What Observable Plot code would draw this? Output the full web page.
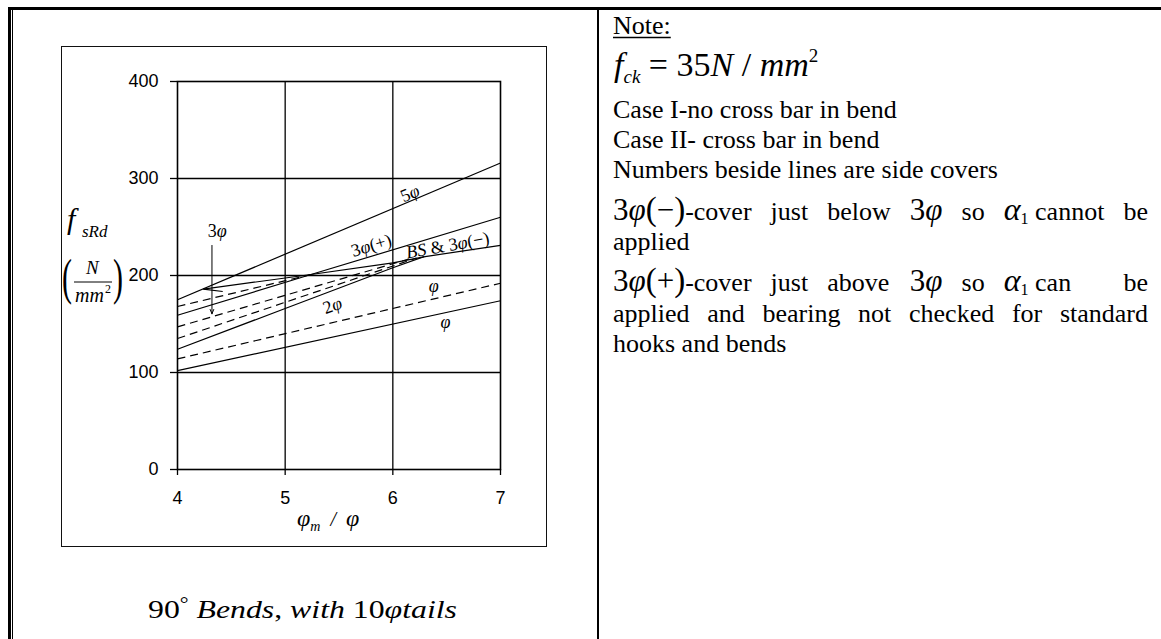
<!DOCTYPE html>
<html><head><meta charset="utf-8">
<script src="https://cdn.jsdelivr.net/npm/d3@7"></script>
<script src="https://cdn.jsdelivr.net/npm/@observablehq/plot@0.6"></script>
<style>
html,body{margin:0;padding:0;background:#fff;}
#page{position:relative;width:1161px;height:639px;overflow:hidden;background:#fff;}
.rule{position:absolute;background:#000;}
#innerBox{position:absolute;left:61px;top:46px;width:486px;height:501px;border:1.5px solid #111;box-sizing:border-box;}
#chart{position:absolute;left:62px;top:47px;}
#overlay{position:absolute;left:0;top:0;}
</style></head>
<body><div id="page">
<div class="rule" style="left:8px;top:7px;width:1153px;height:3px"></div>
<div class="rule" style="left:8px;top:7px;width:2.5px;height:632px"></div>
<div class="rule" style="left:11.5px;top:10px;width:1px;height:629px"></div>
<div class="rule" style="left:597px;top:7px;width:2px;height:632px"></div>
<div id="innerBox"></div>
<div id="chart"></div>
<svg id="overlay" width="1161" height="639"></svg>
</div>
<script>
// ---------- data ----------
const xTicks = [4, 5, 6, 7];
const yTicks = [0, 100, 200, 300, 400];
const xGrid = [5, 6];
const yGrid = [100, 200, 300];

// Case I (solid lines) : [phi_m/phi, f_sRd]
const caseI_5phi     = [[4, 175], [7, 316]];
const caseI_3phiPlus = [[4, 159], [5.24, 201], [7, 260]];
const caseI_BS       = [[4.24, 186], [5.24, 201], [6.0, 213], [6.3, 219.5], [7, 231]];
const caseI_BSstub   = [[4.24, 186], [4.42, 183.5]];
const caseI_2phi     = [[4, 124], [5, 166], [6, 208], [6.29, 219.5]];
const caseI_phi      = [[4, 102], [7, 174]];
// Case II (dashed lines)
const caseII_3phiPlus = [[4, 168], [5.24, 201]];
const caseII_3phi     = [[4, 147], [6.15, 217]];
const caseII_2phi     = [[4, 135], [6.22, 218]];
const caseII_phi      = [[4, 114], [7, 192]];

const lineLabels = [
  {x: 6.16, y: 284.5, text: "5φ", rotate: -23},
  {x: 5.80, y: 231, text: "3φ(+)", rotate: -17},
  {x: 6.51, y: 231, text: "BS & 3φ(−)", rotate: -10},
  {x: 5.44, y: 169, text: "2φ", rotate: -20},
  {x: 6.38, y: 188.6, text: "φ", rotate: 0},
  {x: 6.49, y: 151.5, text: "φ", rotate: 0},
  {x: 4.37, y: 246, text: "3φ", rotate: 0}
];
const arrow3phi = [{x: 4.32, y1: 231, y2: 160.5}];

const solidSeries = [caseI_5phi, caseI_3phiPlus, caseI_BS, caseI_BSstub, caseI_2phi, caseI_phi];
const dashedSeries = [caseII_3phiPlus, caseII_3phi, caseII_2phi, caseII_phi];

// ---------- chart ----------
const SERIF = "'Liberation Serif', 'Times New Roman', serif";
const chart = Plot.plot({
  width: 484, height: 499,
  marginLeft: 115, marginRight: 46, marginTop: 34, marginBottom: 77,
  x: {domain: [4, 7]},
  y: {domain: [0, 400]},
  style: {background: "transparent", color: "#000", fontFamily: "'Liberation Sans', Arial, sans-serif", fontSize: "18px", overflow: "visible"},
  marks: [
    Plot.gridX({ticks: xGrid, stroke: "#000", strokeOpacity: 1, strokeWidth: 1.3}),
    Plot.gridY({ticks: yGrid, stroke: "#000", strokeOpacity: 1, strokeWidth: 1.3}),
    Plot.frame({stroke: "#000", strokeWidth: 1.6}),
    Plot.axisY({ticks: yTicks, tickFormat: d => String(d), tickSize: 7, tickPadding: 12, label: null, fontSize: 18, strokeWidth: 1.3}),
    Plot.axisX({ticks: xTicks, tickFormat: d => String(d), tickSize: 6, tickPadding: 16, label: null, fontSize: 18, strokeWidth: 1.3}),
    ...solidSeries.map(s => Plot.line(s, {x: d => d[0], y: d => d[1], stroke: "#000", strokeWidth: 1.2, strokeLinecap: "butt"})),
    ...dashedSeries.map(s => Plot.line(s, {x: d => d[0], y: d => d[1], stroke: "#000", strokeWidth: 1.2, strokeLinecap: "butt", strokeDasharray: "8,5"})),
    Plot.arrow(arrow3phi, {x1: "x", x2: "x", y1: "y1", y2: "y2", stroke: "#000", strokeWidth: 1, headLength: 7, headAngle: 45}),
    Plot.text(lineLabels, {x: "x", y: "y", text: "text", rotate: "rotate", fontFamily: SERIF, fontSize: 18, fill: "#000"})
  ]
});
document.getElementById("chart").appendChild(chart);

// italicise letters in line labels (digits and signs stay upright)
const labelSet = new Set(lineLabels.map(d => d.text));
d3.select(chart).selectAll("text").each(function() {
  const t = this.textContent;
  if (!labelSet.has(t) || this.querySelector("tspan")) return;
  this.textContent = "";
  this.style.whiteSpace = "pre";
  for (const ch of t) {
    const ts = document.createElementNS("http://www.w3.org/2000/svg", "tspan");
    ts.textContent = ch;
    if (/[A-Za-zφ]/.test(ch)) ts.setAttribute("font-style", "italic");
    this.appendChild(ts);
  }
});

// ---------- text overlay ----------
const NS = "http://www.w3.org/2000/svg";
const ov = document.getElementById("overlay");
function makeText(x, y, segs, extra) {
  const t = document.createElementNS(NS, "text");
  t.setAttribute("x", x); t.setAttribute("y", y);
  t.setAttribute("font-family", SERIF);
  t.setAttribute("fill", "#000");
  t.style.whiteSpace = "pre";
  let rise = 0;
  for (const s of segs) {
    const ts = document.createElementNS(NS, "tspan");
    ts.setAttribute("font-size", s.size || 26);
    if (s.it) ts.setAttribute("font-style", "italic");
    const r = s.rise || 0;
    if (r !== rise) { ts.setAttribute("dy", r - rise); rise = r; }
    ts.textContent = s.t;
    t.appendChild(ts);
  }
  if (extra) for (const k in extra) t.setAttribute(k, extra[k]);
  ov.appendChild(t);
  return t;
}
function addLine(x1, y1, x2, y2, w) {
  const l = document.createElementNS(NS, "line");
  l.setAttribute("x1", x1); l.setAttribute("y1", y1);
  l.setAttribute("x2", x2); l.setAttribute("y2", y2);
  l.setAttribute("stroke", "#000"); l.setAttribute("stroke-width", w || 1);
  ov.appendChild(l);
}

// y-axis label  f_sRd (N/mm^2)
makeText(67, 228.5, [{t: "f", size: 30, it: true}]);
makeText(82, 237, [{t: "sRd", size: 17, it: true}]);
makeText(0, 0, [{t: "(", size: 30}], {transform: "translate(62,294) scale(1,1.7)"});
makeText(0, 0, [{t: ")", size: 30}], {transform: "translate(113,294) scale(1,1.7)"});
makeText(86, 274, [{t: "N", size: 19, it: true}]);
addLine(74, 282, 112, 282, 1);
makeText(75, 302, [{t: "mm", size: 20, it: true}]);
makeText(105, 293, [{t: "2", size: 12}]);

// x-axis label  phi_m / phi
makeText(297, 526, [{t: "φ", size: 24, it: true}, {t: "m", size: 14, it: true, rise: 5}, {t: "  /  ", size: 20, it: true, rise: 0}, {t: "φ", size: 24, it: true}]);

// caption
makeText(148, 618, [
  {t: "90", size: 26}, {t: "°", size: 18, rise: -8}, {t: " Bends", size: 26, it: true, rise: 0},
  {t: ", ", size: 26}, {t: "with ", size: 26, it: true}, {t: "10", size: 26}, {t: "φtails", size: 26, it: true}
], {textLength: 309, lengthAdjust: "spacingAndGlyphs"});

// ---------- notes ----------
const LEFT = 613, RIGHT = 1148;
const note = makeText(LEFT, 34, [{t: "Note:"}]);
addLine(LEFT, 37.5, LEFT + note.getComputedTextLength(), 37.5, 1.3);

makeText(LEFT + 1, 76, [
  {t: "f", size: 34, it: true}, {t: "ck", size: 19, it: true, rise: 7},
  {t: " = ", size: 34, rise: 0}, {t: "35", size: 34}, {t: "N", size: 34, it: true},
  {t: " / ", size: 34}, {t: "mm", size: 34, it: true}, {t: "2", size: 19, rise: -14}
]);
makeText(LEFT, 118, [{t: "Case I-no cross bar in bend"}]);
makeText(LEFT, 148, [{t: "Case II- cross bar in bend"}]);
makeText(LEFT, 178, [{t: "Numbers beside lines are side covers"}]);

function mathWord(sign, rest) {
  return [{t: "3", size: 31}, {t: "φ", size: 31, it: true}, {t: "(", size: 33}, {t: sign, size: 31}, {t: ")", size: 33}, {t: rest}];
}
const phi3 = [{t: "3", size: 31}, {t: "φ", size: 31, it: true}];
function alphaWord(rest) { return [{t: "α", size: 32, it: true}, {t: "1", size: 16, rise: 4}, {t: rest, rise: 0}]; }

function justify(y, words, fixedXs) {
  const nodes = words.map(w => makeText(0, y, w));
  const widths = nodes.map(n => n.getComputedTextLength());
  const total = widths.reduce((a, b) => a + b, 0);
  const gap = (RIGHT - LEFT - total) / (words.length - 1);
  let x = LEFT;
  const xs = [];
  nodes.forEach((n, i) => {
    let xi = x;
    if (fixedXs && i < fixedXs.length - 1) xi = fixedXs[i];
    if (fixedXs && i === nodes.length - 1) xi = RIGHT - widths[i];
    n.setAttribute("x", xi); xs.push(xi);
    x += widths[i] + gap;
  });
  return xs;
}
const row1 = justify(220, [mathWord("−", "-cover"), [{t: "just"}], [{t: "below"}], phi3, [{t: "so"}], alphaWord(" cannot"), [{t: "be"}]]);
makeText(LEFT, 250, [{t: "applied"}]);
justify(291, [mathWord("+", "-cover"), [{t: "just"}], [{t: "above"}], phi3, [{t: "so"}], alphaWord(" can"), [{t: "be"}]], row1);
justify(322, ["applied", "and", "bearing", "not", "checked", "for", "standard"].map(w => [{t: w}]));
makeText(LEFT, 352, [{t: "hooks and bends"}]);
</script>
</body></html>
